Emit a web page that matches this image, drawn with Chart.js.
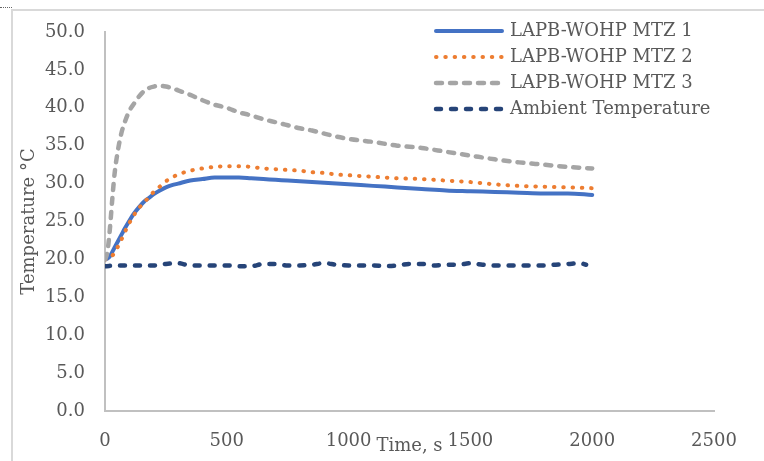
<!DOCTYPE html>
<html>
<head>
<meta charset="utf-8">
<script src="https://cdn.jsdelivr.net/npm/chart.js@4.4.0/dist/chart.umd.min.js"></script>
<style>
  body { margin: 0; background: #fff; }
  #wrap { position: relative; width: 764px; height: 461px; overflow: hidden; }
  #frame { position: absolute; left: 11px; top: 9px; right: -4px; bottom: -4px; border-left: 2px solid #d9d9d9; border-top: 2px solid #d9d9d9; }
  #corner { position: absolute; left: 0; top: 7px; width: 12px; border-top: 1px dotted #666; }
  canvas { position: absolute; left: 0; top: 0; }
</style>
</head>
<body>
<div id="wrap">
  <div id="frame"></div>
  <div id="corner"></div>
  <canvas id="chart" width="764" height="461"></canvas>
</div>
<script>
// time stamps (s) shared by the three MTZ traces
const times = [0, 10, 20, 30, 40, 50, 60, 70, 80, 100, 120, 140, 160, 180, 200, 225, 250, 275, 300,
  350, 400, 450, 500, 550, 600, 650, 700, 750, 800, 850, 900, 950, 1000,
  1100, 1200, 1300, 1400, 1500, 1600, 1700, 1800, 1900, 2000];

const mtz1 = [20.0, 20.1, 20.4, 21.0, 21.6, 22.2, 22.8, 23.4, 24.0, 25.1, 26.1, 26.9, 27.6, 28.1, 28.6, 29.1, 29.5, 29.8, 30.0,
  30.4, 30.6, 30.8, 30.8, 30.8, 30.7, 30.6, 30.5, 30.4, 30.3, 30.2, 30.1, 30.0, 29.9,
  29.7, 29.5, 29.3, 29.1, 29.0, 28.9, 28.8, 28.7, 28.7, 28.5];

const mtz2 = [20.0, 20.0, 20.2, 20.5, 20.9, 21.5, 22.1, 22.8, 23.5, 24.8, 25.9, 26.8, 27.5, 28.2, 28.9, 29.6, 30.3, 30.8, 31.2,
  31.7, 32.0, 32.2, 32.3, 32.3, 32.2, 32.0, 31.9, 31.8, 31.7, 31.5, 31.4, 31.2, 31.1,
  30.9, 30.7, 30.6, 30.4, 30.2, 29.9, 29.7, 29.6, 29.5, 29.4];

const mtz3 = [20.0, 21.0, 24.0, 28.0, 31.5, 33.8, 35.6, 37.0, 38.0, 39.6, 40.6, 41.5, 42.2, 42.6, 42.8, 42.9, 42.8, 42.6, 42.3,
  41.7, 41.0, 40.4, 40.0, 39.4, 39.0, 38.5, 38.1, 37.7, 37.3, 37.0, 36.6, 36.2, 35.9,
  35.5, 35.0, 34.7, 34.2, 33.7, 33.2, 32.8, 32.5, 32.2, 32.0];

// ambient logger samples
const ambientTimes = [0, 50, 100, 150, 200, 250, 300, 350, 400, 450, 500, 550, 600, 650, 700, 750, 800, 850, 900, 950,
  1000, 1050, 1100, 1150, 1200, 1250, 1300, 1350, 1400, 1450, 1500, 1550, 1600, 1650, 1700, 1750, 1800, 1850, 1900, 1950, 1975];
const ambient = [19.1, 19.2, 19.2, 19.2, 19.2, 19.4, 19.5, 19.2, 19.2, 19.2, 19.2, 19.1, 19.1, 19.4, 19.4, 19.2, 19.2, 19.3, 19.5, 19.3,
  19.2, 19.2, 19.2, 19.1, 19.2, 19.4, 19.4, 19.2, 19.3, 19.3, 19.5, 19.3, 19.2, 19.2, 19.2, 19.2, 19.2, 19.3, 19.4, 19.5, 19.3];

const seriesNames = ['LAPB-WOHP MTZ 1', 'LAPB-WOHP MTZ 2', 'LAPB-WOHP MTZ 3', 'Ambient Temperature'];
const yTicks = [0, 5, 10, 15, 20, 25, 30, 35, 40, 45, 50];
const xTicks = [0, 500, 1000, 1500, 2000, 2500];

const FONT = "'DejaVu Serif', 'Liberation Serif', serif";
const TEXT = '#595959';

const toPoints = (xs, ys) => xs.map((x, i) => ({ x, y: ys[i] }));

// legend drawn as a column of line samples at the top right
const lineLegend = {
  id: 'lineLegend',
  afterDraw(chart) {
    const ctx = chart.ctx;
    ctx.save();
    chart.data.datasets.forEach((ds, i) => {
      const y = 31 + i * 26;
      ctx.beginPath();
      ctx.setLineDash(ds.borderDash || []);
      ctx.lineCap = ds.borderCapStyle || 'butt';
      ctx.lineWidth = ds.borderWidth;
      ctx.strokeStyle = ds.borderColor;
      ctx.moveTo(436, y);
      ctx.lineTo(502, y);
      ctx.stroke();
      ctx.setLineDash([]);
      ctx.fillStyle = TEXT;
      ctx.font = '18px ' + FONT;
      ctx.textBaseline = 'middle';
      ctx.textAlign = 'left';
      ctx.fillText(ds.label, 510, y);
    });
    ctx.restore();
  }
};

const styles = [
  { color: '#4472c4', width: 4, dash: [], cap: 'round' },
  { color: '#ed7d31', width: 4, dash: [0.5, 8.8], cap: 'round' },
  { color: '#a5a5a5', width: 4.5, dash: [6, 8], cap: 'round' },
  { color: '#264478', width: 4.5, dash: [5, 10], cap: 'round' }
];
const seriesData = [toPoints(times, mtz1), toPoints(times, mtz2), toPoints(times, mtz3), toPoints(ambientTimes, ambient)];

const datasets = seriesNames.map((name, i) => ({
  label: name,
  data: seriesData[i],
  borderColor: styles[i].color,
  borderWidth: styles[i].width,
  borderDash: styles[i].dash,
  borderCapStyle: styles[i].cap,
  borderJoinStyle: 'round',
  pointRadius: 0,
  fill: false,
  cubicInterpolationMode: 'monotone',
  order: seriesNames.length - i
}));

new Chart(document.getElementById('chart'), {
  type: 'line',
  data: { datasets },
  options: {
    responsive: false,
    animation: false,
    devicePixelRatio: 1,
    layout: { padding: { top: 32, right: 50, left: 0, bottom: 0 } },
    plugins: { legend: { display: false }, tooltip: { enabled: false } },
    scales: {
      x: {
        type: 'linear',
        min: 0,
        max: 2500,
        afterFit(scale) { scale.height = 50; },
        afterBuildTicks(scale) { scale.ticks = xTicks.map(v => ({ value: v })); },
        grid: { display: false, drawTicks: false },
        border: { color: '#c0c0c0', width: 2 },
        ticks: { color: TEXT, font: { family: FONT, size: 18 }, padding: 20, maxRotation: 0, callback: v => String(v) },
        title: { display: true, text: 'Time, s', color: TEXT, font: { family: FONT, size: 18 }, padding: { top: 0, bottom: 4 } }
      },
      y: {
        min: 0,
        max: 50,
        afterFit(scale) { scale.width = 105; },
        afterBuildTicks(scale) { scale.ticks = yTicks.map(v => ({ value: v })); },
        grid: { display: false, drawTicks: false },
        border: { color: '#c0c0c0', width: 2 },
        ticks: { color: TEXT, font: { family: FONT, size: 18 }, padding: 20, callback: v => v.toFixed(1) },
        title: { display: true, text: 'Temperature °C', color: TEXT, font: { family: FONT, size: 18 }, padding: { top: 19, bottom: 0 } }
      }
    }
  },
  plugins: [lineLegend]
});
</script>
</body>
</html>
